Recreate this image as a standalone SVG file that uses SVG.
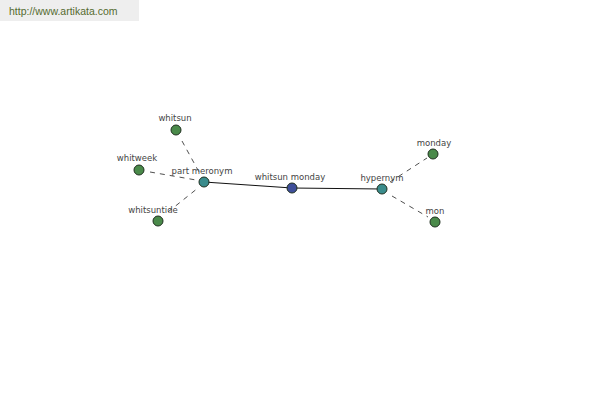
<svg xmlns="http://www.w3.org/2000/svg" width="600" height="400" viewBox="0 0 600 400">
<style>
.lbl{font-family:"DejaVu Sans",Verdana,sans-serif;font-size:8.5px;fill:#444;text-anchor:middle}
.n{stroke:#1f2f1f;stroke-width:1}
.leaf{fill:#4a8a4a}
.rel{fill:#3a8c8c}
.main{fill:#3f4f9a}
.dash{stroke:#222;stroke-width:0.8;stroke-dasharray:5,5;fill:none}
.solid{stroke:#111;stroke-width:1;fill:none}
</style>
<rect x="0" y="0" width="139" height="21" fill="#eeeeee"/>
<text x="9" y="15" font-family="Liberation Sans, Arial, sans-serif" font-size="10.5" fill="#556b2f">http://www.artikata.com</text>
<g id="connectors">
<line class="solid" x1="204" y1="182" x2="292" y2="188"/>
<line class="solid" x1="292" y1="188" x2="382" y2="189"/>
<line class="dash" x1="182" y1="141" x2="199" y2="172"/>
<line class="dash" x1="150" y1="172" x2="196" y2="180"/>
<line class="dash" x1="168" y1="212" x2="198" y2="188"/>
<line class="dash" x1="390" y1="182" x2="427" y2="158"/>
<line class="dash" x1="392" y1="196" x2="428" y2="217"/>
</g>
<g id="whitsun"><circle class="n leaf" cx="176" cy="130" r="5"/><text class="lbl" x="175" y="121">whitsun</text></g>
<g id="whitweek"><circle class="n leaf" cx="139" cy="170" r="5"/><text class="lbl" x="137" y="161">whitweek</text></g>
<g id="whitsuntide"><circle class="n leaf" cx="158" cy="221" r="5"/><text class="lbl" x="153" y="213">whitsuntide</text></g>
<g id="part-meronym"><circle class="n rel" cx="204" cy="182" r="5"/><text class="lbl" x="202" y="174">part meronym</text></g>
<g id="whitsun-monday"><circle class="n main" cx="292" cy="188" r="5"/><text class="lbl" x="290" y="180">whitsun monday</text></g>
<g id="hypernym"><circle class="n rel" cx="382" cy="189" r="5"/><text class="lbl" x="382" y="181">hypernym</text></g>
<g id="monday"><circle class="n leaf" cx="433" cy="154" r="5"/><text class="lbl" x="434" y="146">monday</text></g>
<g id="mon"><circle class="n leaf" cx="435" cy="222" r="5"/><text class="lbl" x="435" y="214">mon</text></g>
</svg>
